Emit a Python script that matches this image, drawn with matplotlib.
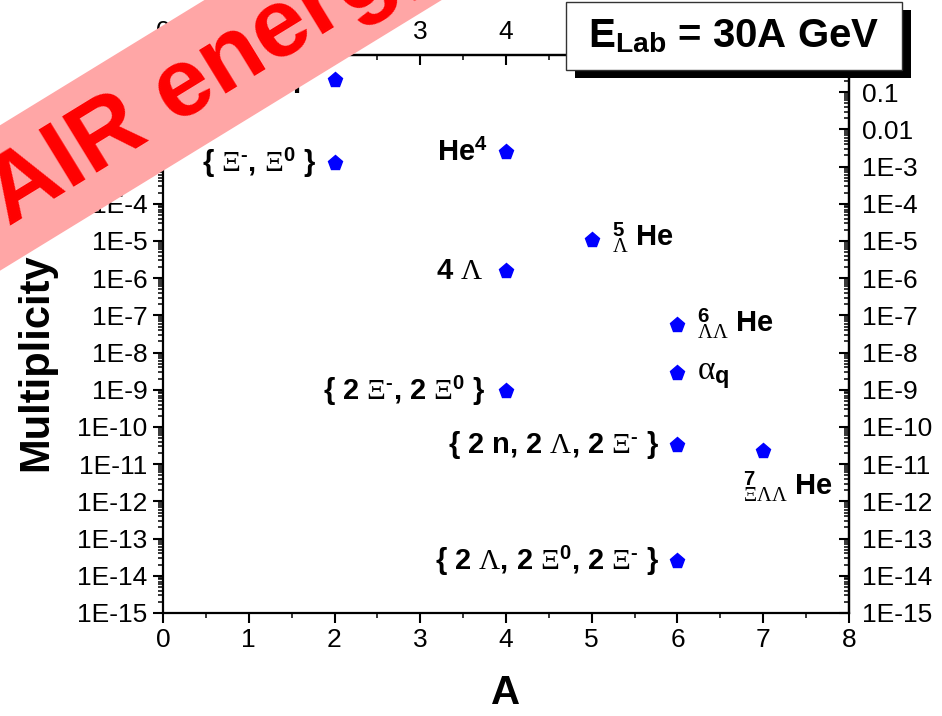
import numpy as np
import matplotlib
matplotlib.use("Agg")
import matplotlib.pyplot as plt
from matplotlib.ticker import LogLocator, FuncFormatter, MultipleLocator, NullFormatter
from matplotlib.patches import Polygon, Rectangle

plt.rcParams['font.family'] = ['Liberation Sans', 'DejaVu Sans']
plt.rcParams['mathtext.fontset'] = 'custom'
plt.rcParams['mathtext.rm'] = 'Liberation Serif'
plt.rcParams['mathtext.it'] = 'Liberation Serif:italic'
plt.rcParams['mathtext.bf'] = 'Liberation Sans:bold'
plt.rcParams['mathtext.sf'] = 'Liberation Sans'

# mass number and yield of each cluster
mass_number = [2, 2, 4, 4, 4, 5, 6, 6, 6, 6, 7]
multiplicity = [2.1e-1, 1.25e-3, 2.5e-3, 1.6e-6, 9.3e-10, 1.07e-5,
                5.5e-8, 2.8e-9, 3.3e-11, 2.5e-14, 2.3e-11]
cluster_names = [
    "H",
    r"{ $\Xi^{\mathbf{‐}}$, $\Xi^{\mathbf{0}}$ }",
    r"He$^{\mathbf{4}}$",
    r"4 $\Lambda$",
    r"{ 2 $\Xi^{\mathbf{‐}}$, 2 $\Xi^{\mathbf{0}}$ }",
    r"${}^{\mathbf{5}}_{\Lambda}$ He",
    r"${}^{\mathbf{6}}_{\Lambda\Lambda}$ He",
    r"$\mathrm{\alpha}_{\mathbf{q}}$",
    r"{ 2 n, 2 $\Lambda$, 2 $\Xi^{\mathbf{‐}}$ }",
    r"{ 2 $\Lambda$, 2 $\Xi^{\mathbf{0}}$, 2 $\Xi^{\mathbf{‐}}$ }",
    r"${}^{\mathbf{7}}_{\Xi\Lambda\Lambda}$ He",
]
# label offset from the marker (pixels), alignment and size
label_offsets = [(-33, -5), (-18, 0), (-18, -1), (-23, 0), (-20, 0), (20, 2),
                 (20, 2), (20, -2), (-18, 0), (-18, 0), (-20, -36)]
label_align = ['right', 'right', 'right', 'right', 'right', 'left',
               'left', 'left', 'right', 'right', 'left']
label_size = [21, 21, 21, 21, 21, 21, 21, 24, 21, 21, 21]

x_ticks = [0, 1, 2, 3, 4, 5, 6, 7, 8]
top_tick_labels = ['0', '1', '2', '3', '4', '', '', '', '']


def decade_label(v, pos):
    e = int(round(np.log10(v)))
    if e == 0:
        return ""
    if e == -1:
        return "0.1"
    if e == -2:
        return "0.01"
    return "1E%d" % e


W, H = 942, 716
fig = plt.figure(figsize=(W / 100, H / 100), dpi=100)
ax = fig.add_axes([163 / W, 1 - 613 / H, 686 / W, 558 / H])

ax.plot(mass_number, multiplicity, linestyle='none', marker='p', ms=11,
        color='#0000ff', markeredgecolor='#0000ff', zorder=5)

for x, y, name, off, ha, fs in zip(mass_number, multiplicity, cluster_names,
                                   label_offsets, label_align, label_size):
    ax.annotate(name, (x, y), xytext=off, textcoords='offset pixels',
                ha=ha, va='center', fontsize=fs, fontweight='bold')

ax.set_yscale('log')
ax.set_xlim(0, 8)
ax.set_ylim(1e-15, 1)
ax.set_xticks(x_ticks)
ax.xaxis.set_minor_locator(MultipleLocator(0.5))
ax.yaxis.set_major_locator(LogLocator(base=10, numticks=30))
ax.yaxis.set_minor_locator(LogLocator(base=10, subs=np.arange(2, 10), numticks=30))
ax.yaxis.set_major_formatter(FuncFormatter(decade_label))
ax.yaxis.set_minor_formatter(NullFormatter())

for s in ax.spines.values():
    s.set_linewidth(1.6)
ax.tick_params(which='major', direction='out', length=7, width=1.5,
               labelsize=19, pad=4)
ax.tick_params(which='minor', direction='out', length=3.5, width=1.1)

# top and right axes: same scale, ticks drawn inward
top = ax.secondary_xaxis('top')
top.set_xticks(x_ticks, top_tick_labels)
top.xaxis.set_minor_locator(MultipleLocator(0.5))
top.tick_params(which='major', direction='in', length=7, width=1.5,
                labelsize=19, pad=8)
top.tick_params(which='minor', direction='in', length=3.5, width=1.1)
top.spines['top'].set_linewidth(1.6)

right = ax.secondary_yaxis('right')
right.yaxis.set_major_locator(LogLocator(base=10, numticks=30))
right.yaxis.set_minor_locator(LogLocator(base=10, subs=np.arange(2, 10), numticks=30))
right.yaxis.set_major_formatter(FuncFormatter(decade_label))
right.yaxis.set_minor_formatter(NullFormatter())
right.tick_params(which='major', direction='in', length=7, width=1.5,
                  labelsize=19, pad=9)
right.tick_params(which='minor', direction='in', length=3.5, width=1.1)
right.spines['right'].set_linewidth(1.6)

ax.set_xlabel("A", fontsize=29, fontweight='bold', labelpad=16)
ax.set_ylabel("Multiplicity", fontsize=30, fontweight='bold')
ax.yaxis.set_label_coords(-0.156, 0.45)

# overlay in pixel units for the energy box and the banner
ov = fig.add_axes([0, 0, 1, 1], zorder=10)
ov.set_xlim(0, W)
ov.set_ylim(H, 0)
ov.axis('off')
ov.patch.set_alpha(0)

ov.add_patch(Rectangle((575, 10), 336, 68, facecolor='black', edgecolor='none'))
ov.add_patch(Rectangle((566, 2), 336, 68, facecolor='white', edgecolor='#333333', lw=1))
ov.text(734, 47, r"E$_{\mathbf{Lab}}$ = 30A GeV", fontsize=29, fontweight='bold',
        ha='center', va='baseline')

ang = np.deg2rad(31.5)
d = np.array([np.cos(ang), -np.sin(ang)])
n = np.array([np.sin(ang), np.cos(ang)])
c0 = np.array([0.0, 198.0])
half = 62
band = [c0 - 300 * d - half * n, c0 + 700 * d - half * n,
        c0 + 700 * d + half * n, c0 - 300 * d + half * n]
ov.add_patch(Polygon(band, closed=True, facecolor='#ffa6a6', edgecolor='none'))
tc = c0 + 222 * d + 4 * n
ov.text(tc[0], tc[1], "FAIR energy", fontsize=70, fontweight='bold', color='#ff0000',
        rotation=31.5, rotation_mode='anchor', ha='center', va='center')

fig.savefig("out.png", dpi=100)
